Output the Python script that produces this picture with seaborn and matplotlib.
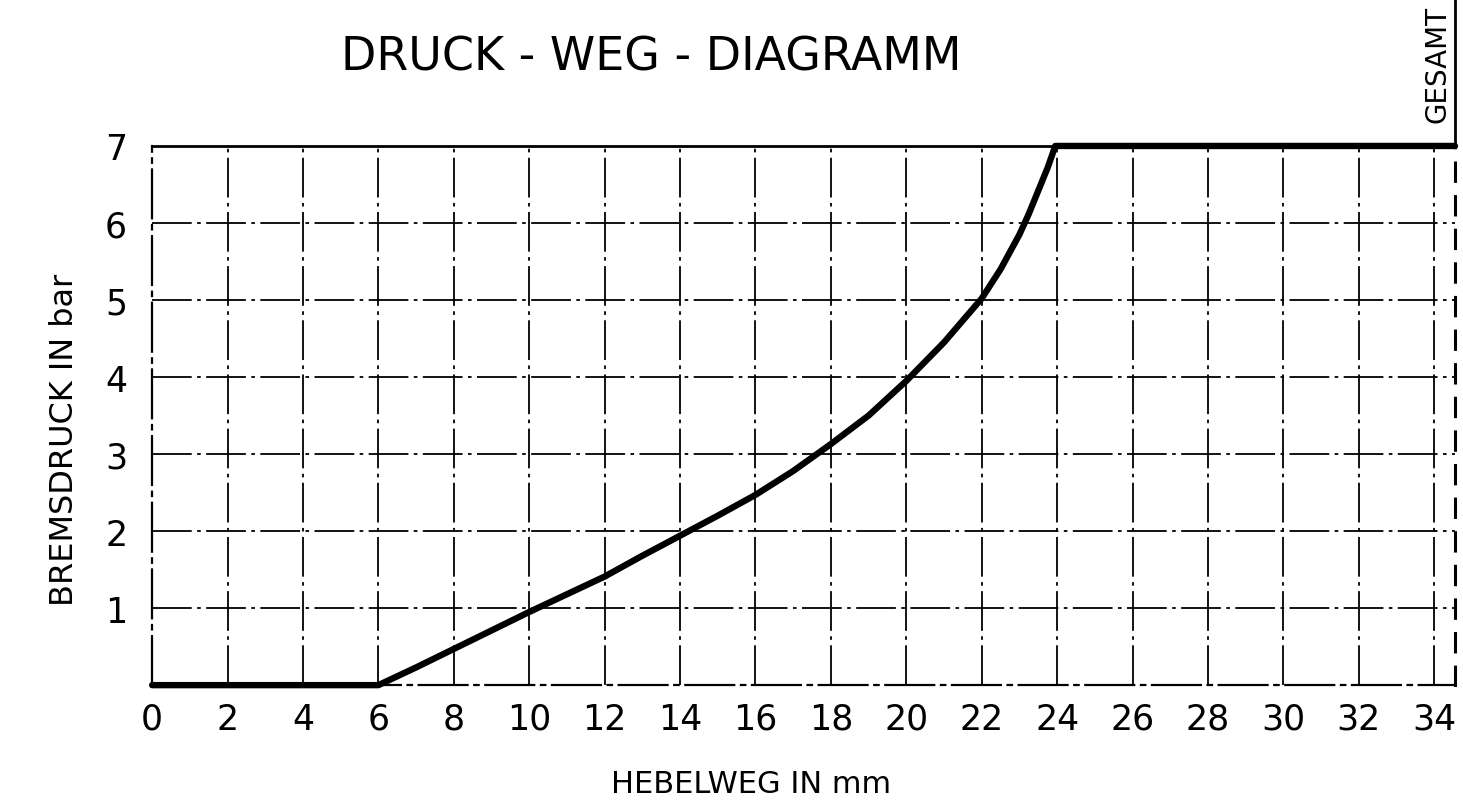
"""
Druck-Weg-Diagramm: brake pressure over lever travel, redrawn with seaborn.
"""

import matplotlib
matplotlib.use("Agg")
import matplotlib.pyplot as plt
import pandas as pd
import seaborn as sns

sns.set_theme(style="white")
plt.rcParams["font.family"] = ["DejaVu Sans"]
plt.rcParams["text.color"] = "black"
plt.rcParams["axes.labelcolor"] = "black"

# Values
hebelweg_mm = [0, 6, 7, 8, 9, 10, 11, 12, 13, 14, 15, 16, 17, 18, 19, 20,
               21, 22, 22.5, 23, 23.25, 23.5, 23.75, 23.95, 34.55]
bremsdruck_bar = [0, 0, 0.23, 0.47, 0.71, 0.95, 1.18, 1.41, 1.68, 1.94, 2.2,
                  2.47, 2.78, 3.13, 3.5, 3.95, 4.45, 5.02, 5.4, 5.85, 6.12,
                  6.42, 6.72, 7.0, 7.0]
x_ticks = list(range(0, 35, 2))
y_ticks = [1, 2, 3, 4, 5, 6, 7]
X_MAX = 34.55
Y_MAX = 7

df = pd.DataFrame({"hebelweg": hebelweg_mm, "bremsdruck": bremsdruck_bar})

fig = plt.figure(figsize=(14.63, 8.12), dpi=100)
ax = fig.add_axes([0.104, 0.155, 0.8905, 0.664])

# dash-dot grid like the original drawing
dashdot = (0, (22, 3, 2, 3))
grid_style = dict(color="black", linewidth=1.3, linestyle=dashdot, zorder=1)
for gx in x_ticks[1:]:
    ax.axvline(gx, **grid_style)
for gy in y_ticks[:-1]:
    ax.axhline(gy, **grid_style)

sns.lineplot(data=df, x="hebelweg", y="bremsdruck", color="black",
             linewidth=4.6, ax=ax, zorder=3, solid_capstyle="round",
             solid_joinstyle="round", clip_on=False)

ax.set_xlim(0, X_MAX)
ax.set_ylim(0, Y_MAX)
ax.set_xticks(x_ticks)
ax.set_yticks(y_ticks)
ax.tick_params(axis="both", length=0, labelsize=25, colors="black")
ax.tick_params(axis="x", pad=12)
ax.tick_params(axis="y", pad=18)

for side in ["left", "bottom"]:
    ax.spines[side].set_color("black")
    ax.spines[side].set_linewidth(1.6)
    ax.spines[side].set_linestyle(dashdot)
ax.spines["top"].set_color("black")
ax.spines["top"].set_linewidth(2)
ax.spines["right"].set_color("black")
ax.spines["right"].set_linewidth(2.2)
ax.spines["right"].set_linestyle((0, (6, 5)))

ax.set_xlabel("HEBELWEG IN mm", fontsize=22)
ax.xaxis.set_label_coords(0.46, -0.155)
ax.set_ylabel("BREMSDRUCK IN bar", fontsize=23)
ax.yaxis.set_label_coords(-0.055, 0.456)

fig.text(0.445, 0.928, "DRUCK - WEG - DIAGRAMM", fontsize=33,
         ha="center", va="center")

# "GESAMT" box at the top right
fig.text(0.9825, 0.92, "GESAMT", fontsize=20, rotation=90,
         ha="center", va="center")
fig.add_artist(plt.Line2D([0.9945, 0.9945], [0.819, 1.0], color="black",
                          linewidth=2, transform=fig.transFigure))

fig.savefig("out.png", dpi=100, facecolor="white")
